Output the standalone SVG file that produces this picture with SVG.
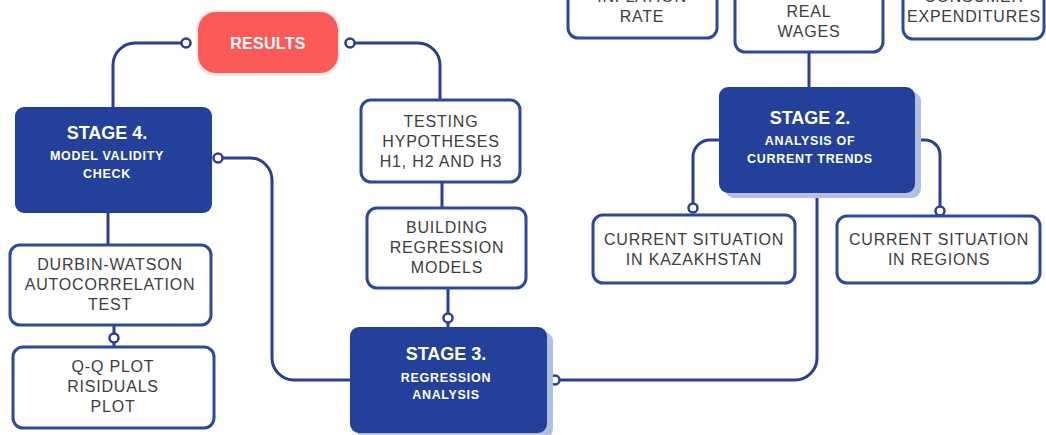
<svg xmlns="http://www.w3.org/2000/svg" width="1046" height="435" viewBox="0 0 1046 435">
<style>
.box{fill:#ffffff;stroke:#2b4a9c;stroke-width:3}
.stage{fill:#23409b}
.shadow{fill:#b3c1e0}
.t{font-family:"Liberation Sans",Arial,sans-serif;font-size:16px;fill:#3d3d3d;text-anchor:middle;letter-spacing:0.8px}
.h{font-family:"Liberation Sans",Arial,sans-serif;font-weight:bold;font-size:18px;fill:#ffffff;text-anchor:middle}
.s{font-family:"Liberation Sans",Arial,sans-serif;font-weight:bold;font-size:12.5px;fill:#ffffff;text-anchor:middle;letter-spacing:0.7px}
.line{fill:none;stroke:#2a3f94;stroke-width:3}
.dot{fill:#ffffff;stroke:#2a3f94;stroke-width:2.5}
</style>
<rect width="1046" height="435" fill="#ffffff"/>
<g id="connectors">
<path class="line" d="M182,43 H135 A22,22 0 0 0 113,65 V107"/>
<path class="line" d="M355,43 H418 A22,22 0 0 1 440,65 V100"/>
<path class="line" d="M223,158 H250 A22,22 0 0 1 272,180 V358 A22,22 0 0 0 294,380 H350"/>
<path class="line" d="M108,213 V245"/>
<path class="line" d="M114,325 V347"/>
<path class="line" d="M442,182 V208"/>
<path class="line" d="M448,288 V327"/>
<path class="line" d="M559,380 H795 A22,22 0 0 0 817,358 V193"/>
<path class="line" d="M809,52 V87"/>
<path class="line" d="M719,140 H710 A17,17 0 0 0 693,157 V207"/>
<path class="line" d="M915,140 H925 A15,15 0 0 1 940,155 V211"/>
<circle class="dot" cx="186" cy="43" r="4.5"/>
<circle class="dot" cx="350" cy="43" r="4.5"/>
<circle class="dot" cx="218" cy="158" r="4.5"/>
<circle class="dot" cx="114" cy="338" r="4.5"/>
<circle class="dot" cx="448" cy="318" r="4.5"/>
<circle class="dot" cx="555" cy="380" r="4.5"/>
<circle class="dot" cx="693" cy="208" r="4.5"/>
<circle class="dot" cx="940" cy="211" r="4.5"/>
</g>
<g id="results">
<rect x="196" y="10" width="144" height="66" rx="20" fill="#fde8e6"/>
<rect x="198" y="12" width="140" height="61" rx="18" fill="#fc5959"/>
<text class="h" x="268" y="49" style="font-size:16px;letter-spacing:0.3px">RESULTS</text>
</g>
<g id="stage4">
<rect class="stage" x="15" y="107" width="197" height="106" rx="9"/>
<text class="h" x="107" y="139">STAGE 4.</text>
<text class="s" x="107" y="160">MODEL VALIDITY</text>
<text class="s" x="107" y="178">CHECK</text>
</g>
<g id="durbin">
<rect class="box" x="10" y="245" width="201" height="80" rx="10"/>
<text class="t" x="110" y="270">DURBIN-WATSON</text>
<text class="t" x="110" y="290">AUTOCORRELATION</text>
<text class="t" x="110" y="310">TEST</text>
</g>
<g id="qqplot">
<rect class="box" x="13" y="347" width="201" height="81" rx="10"/>
<text class="t" x="113" y="372">Q-Q PLOT</text>
<text class="t" x="113" y="392">RISIDUALS</text>
<text class="t" x="113" y="412">PLOT</text>
</g>
<g id="testing">
<rect class="box" x="361" y="100" width="159" height="82" rx="10"/>
<text class="t" x="441" y="127">TESTING</text>
<text class="t" x="441" y="147">HYPOTHESES</text>
<text class="t" x="441" y="167">H1, H2 AND H3</text>
</g>
<g id="building">
<rect class="box" x="367" y="208" width="159" height="80" rx="10"/>
<text class="t" x="447" y="233">BUILDING</text>
<text class="t" x="447" y="253">REGRESSION</text>
<text class="t" x="447" y="273">MODELS</text>
</g>
<g id="stage3">
<rect class="shadow" x="356" y="332" width="197" height="106" rx="9"/>
<rect class="stage" x="350" y="327" width="197" height="106" rx="9"/>
<text class="h" x="446" y="360">STAGE 3.</text>
<text class="s" x="446" y="382">REGRESSION</text>
<text class="s" x="446" y="399">ANALYSIS</text>
</g>
<g id="stage2">
<rect class="shadow" x="725" y="92" width="196" height="106" rx="9"/>
<rect class="stage" x="719" y="87" width="196" height="106" rx="9"/>
<text class="h" x="810" y="124">STAGE 2.</text>
<text class="s" x="810" y="145">ANALYSIS OF</text>
<text class="s" x="810" y="163">CURRENT TRENDS</text>
</g>
<g id="inflation">
<rect class="box" x="568" y="-40" width="149" height="78" rx="10"/>
<text class="t" x="642" y="2">INFLATION</text>
<text class="t" x="642" y="22">RATE</text>
</g>
<g id="realwages">
<rect class="box" x="735" y="-30" width="148" height="82" rx="10"/>
<text class="t" x="809" y="17">REAL</text>
<text class="t" x="809" y="37">WAGES</text>
</g>
<g id="consumer">
<rect class="box" x="903" y="-40" width="141" height="79" rx="10"/>
<text class="t" x="974" y="2">CONSUMER</text>
<text class="t" x="974" y="22">EXPENDITURES</text>
</g>
<g id="kazakhstan">
<rect class="box" x="593" y="215" width="202" height="68" rx="10"/>
<text class="t" x="694" y="245">CURRENT SITUATION</text>
<text class="t" x="694" y="265">IN KAZAKHSTAN</text>
</g>
<g id="regions">
<rect class="box" x="837" y="216" width="203" height="67" rx="10"/>
<text class="t" x="939" y="245">CURRENT SITUATION</text>
<text class="t" x="939" y="265">IN REGIONS</text>
</g>
</svg>
